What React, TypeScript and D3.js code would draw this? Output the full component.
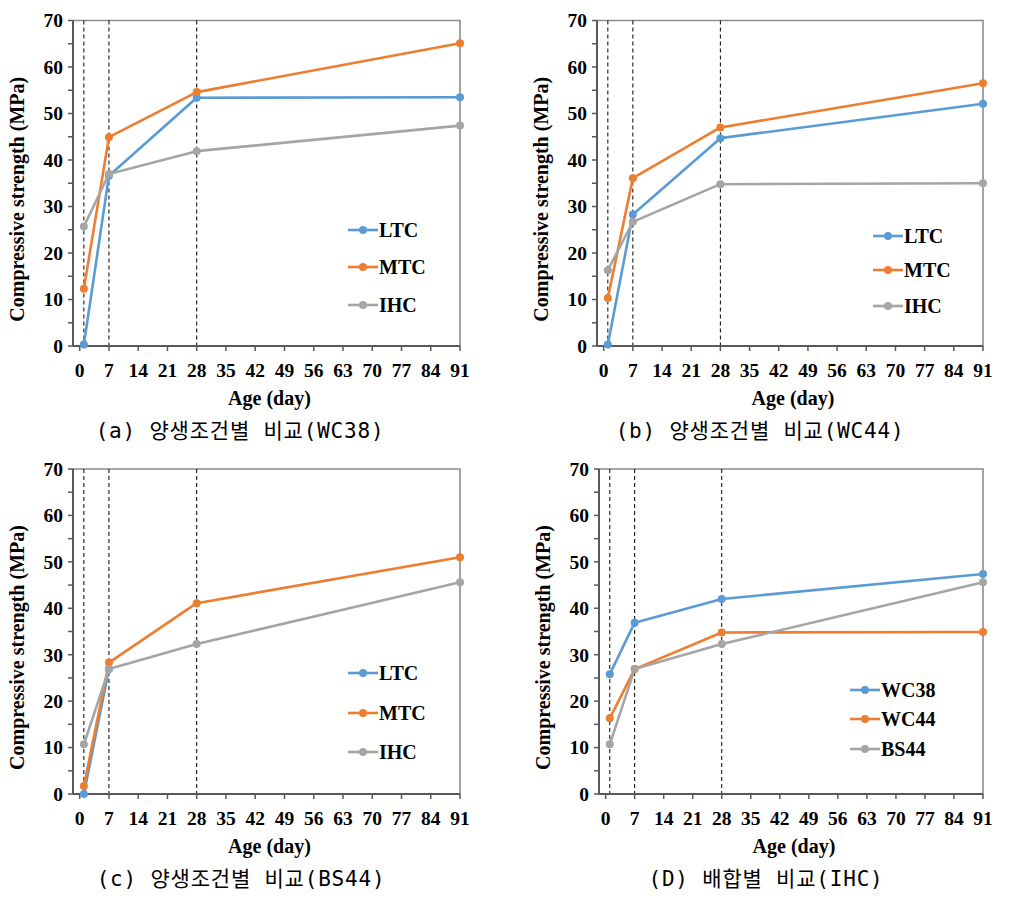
import React from "react";
import * as d3 from "d3";

// ---- data ----
const DAYS = [1, 7, 28, 91];
const DASH_DAYS = [1, 7, 28];
const X_TICKS = [0, 7, 14, 21, 28, 35, 42, 49, 56, 63, 70, 77, 84, 91];
const Y_TICKS = [0, 10, 20, 30, 40, 50, 60, 70];
const Y_MINOR = [5, 15, 25, 35, 45, 55, 65];

const CURING_NAMES = ["LTC", "MTC", "IHC"];
const MIX_NAMES = ["WC38", "WC44", "BS44"];

// (a) WC38
const A_LTC = [0.3, 36.6, 53.4, 53.5];
const A_MTC = [12.3, 44.9, 54.6, 65.1];
const A_IHC = [25.7, 37.0, 41.9, 47.4];
// (b) WC44
const B_LTC = [0.3, 28.3, 44.7, 52.1];
const B_MTC = [10.3, 36.1, 47.0, 56.5];
const B_IHC = [16.3, 26.7, 34.8, 35.0];
// (c) BS44
const C_LTC = [0.0, 26.9];
const C_MTC = [1.7, 28.3, 41.1, 51.0];
const C_IHC = [10.7, 26.9, 32.3, 45.6];
// (d) IHC by mix
const D_WC38 = [25.8, 36.9, 42.0, 47.4];
const D_WC44 = [16.3, 26.9, 34.8, 34.9];
const D_BS44 = [10.7, 26.9, 32.3, 45.6];

const CAPTIONS = [
  "(a) 양생조건별 비교(WC38)",
  "(b) 양생조건별 비교(WC44)",
  "(c) 양생조건별 비교(BS44)",
  "(D) 배합별 비교(IHC)",
];

const COLORS = ["#5B9BD5", "#ED7D31", "#A5A5A5"];

// ---- layout ----
const panels = [
  { left: 73, right: 460, top: 20.5, bottom: 346, names: CURING_NAMES, values: [A_LTC, A_MTC, A_IHC], legX: 348, legY: [230, 267, 305], capX: 240, caption: CAPTIONS[0] },
  { left: 597, right: 983, top: 20.5, bottom: 346, names: CURING_NAMES, values: [B_LTC, B_MTC, B_IHC], legX: 873, legY: [236, 270, 306], capX: 760, caption: CAPTIONS[1] },
  { left: 73, right: 460, top: 469, bottom: 794, names: CURING_NAMES, values: [C_LTC, C_MTC, C_IHC], legX: 348, legY: [673, 713, 752], capX: 241, caption: CAPTIONS[2] },
  { left: 599, right: 983, top: 469, bottom: 794, names: MIX_NAMES, values: [D_WC38, D_WC44, D_BS44], legX: 850, legY: [690, 719, 749], capX: 766, caption: CAPTIONS[3] },
];

const SERIF = "'Liberation Serif', 'Times New Roman', serif";
const CAPFONT = "'DejaVu Sans Mono', 'Noto Sans CJK KR', monospace";

function Panel({ p }: { p: typeof panels[number] }) {
  const x = d3.scaleLinear().domain([-1.6, 91]).range([p.left, p.right]);
  const y = d3.scaleLinear().domain([0, 70]).range([p.bottom, p.top]);
  const line = d3
    .line<number>()
    .x((_, i) => x(DAYS[i]))
    .y((v) => y(v));
  const midX = (p.left + p.right) / 2;
  const midY = (p.top + p.bottom) / 2;
  return (
    <g>
      <path d={`M${p.left},${p.top}H${p.right}V${p.bottom}`} fill="none" stroke="#8c8c8c" strokeWidth={1.6} />
      {DASH_DAYS.map((d) => (
        <line key={d} x1={x(d)} x2={x(d)} y1={y(70)} y2={y(0)} stroke="#000" strokeWidth={1} strokeDasharray="4,3" />
      ))}
      <line x1={p.left} x2={p.left} y1={p.top} y2={p.bottom} stroke="#595959" strokeWidth={2} />
      <line x1={p.left} x2={p.right} y1={p.bottom} y2={p.bottom} stroke="#595959" strokeWidth={2} />
      {Y_TICKS.map((t) => (
        <g key={t}>
          <line x1={p.left - 5} x2={p.left} y1={y(t)} y2={y(t)} stroke="#595959" strokeWidth={1.5} />
          <text x={p.left - 10} y={y(t)} dy="0.35em" textAnchor="end" fontFamily={SERIF} fontWeight="bold" fontSize={19.5} fill="#000">
            {t}
          </text>
        </g>
      ))}
      {Y_MINOR.map((t) => (
        <line key={t} x1={p.left - 5} x2={p.left} y1={y(t)} y2={y(t)} stroke="#595959" strokeWidth={1.5} />
      ))}
      {X_TICKS.map((t) => (
        <g key={t}>
          <line x1={x(t)} x2={x(t)} y1={p.bottom} y2={p.bottom + 5} stroke="#595959" strokeWidth={1.5} />
          <text x={x(t)} y={p.bottom + 31} textAnchor="middle" fontFamily={SERIF} fontWeight="bold" fontSize={19.5} fill="#000">
            {t}
          </text>
        </g>
      ))}
      <text x={midX + 3} y={p.bottom + 59} textAnchor="middle" fontFamily={SERIF} fontWeight="bold" fontSize={20} fill="#000">
        Age (day)
      </text>
      <text
        transform={`translate(${p.left - 56},${midY + 16}) rotate(-90)`}
        textAnchor="middle"
        dy="0.35em"
        fontFamily={SERIF}
        fontWeight="bold"
        fontSize={20}
        fill="#000"
      >
        Compressive strength (MPa)
      </text>
      {p.values.map((vals, si) => (
        <g key={si}>
          <path d={line(vals) || ""} fill="none" stroke={COLORS[si]} strokeWidth={2.6} strokeLinejoin="round" />
          {vals.map((v, i) => (
            <circle key={i} cx={x(DAYS[i])} cy={y(v)} r={4} fill={COLORS[si]} />
          ))}
        </g>
      ))}
      {p.names.map((n, i) => (
        <g key={n}>
          <line x1={p.legX} x2={p.legX + 30} y1={p.legY[i]} y2={p.legY[i]} stroke={COLORS[i]} strokeWidth={2.6} />
          <circle cx={p.legX + 15} cy={p.legY[i]} r={4} fill={COLORS[i]} />
          <text x={p.legX + 31} y={p.legY[i]} dy="0.35em" fontFamily={SERIF} fontWeight="bold" fontSize={20} fill="#000">
            {n}
          </text>
        </g>
      ))}
      <text x={p.capX} y={p.bottom + 92} textAnchor="middle" fontFamily={CAPFONT} fontSize={21} letterSpacing={0.8} fill="#000">
        {p.caption}
      </text>
    </g>
  );
}

export default function App() {
  return (
    <svg
      width={1017}
      height={902}
      viewBox="0 0 1017 902"
      style={{ position: "absolute", left: 0, top: 0, background: "#fff" }}
    >
      <rect width={1017} height={902} fill="#fff" />
      {panels.map((p, i) => (
        <Panel key={i} p={p} />
      ))}
    </svg>
  );
}
